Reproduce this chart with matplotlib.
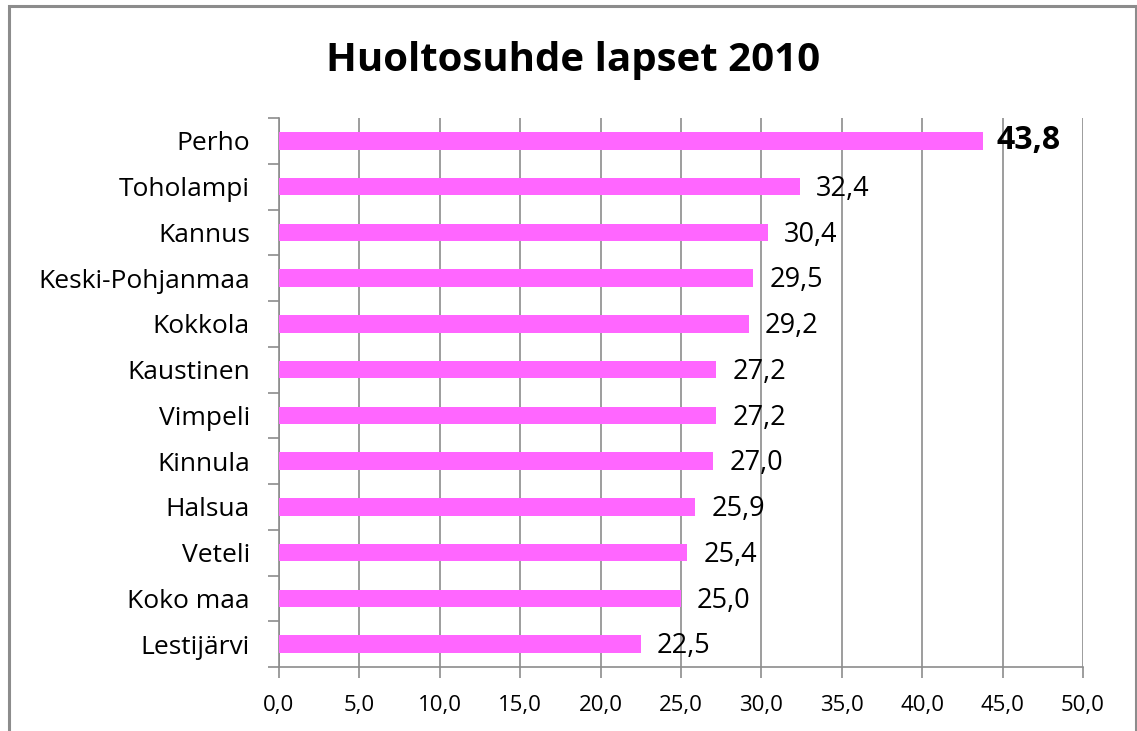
import matplotlib.pyplot as plt
from matplotlib.patches import Rectangle

# data
kunnat = ["Perho", "Toholampi", "Kannus", "Keski-Pohjanmaa", "Kokkola", "Kaustinen",
          "Vimpeli", "Kinnula", "Halsua", "Veteli", "Koko maa", "Lestijärvi"]
arvot = [43.8, 32.4, 30.4, 29.5, 29.2, 27.2, 27.2, 27.0, 25.9, 25.4, 25.0, 22.5]
xticks = [0, 5, 10, 15, 20, 25, 30, 35, 40, 45, 50]

plt.rcParams['font.family'] = ['Open Sans', 'DejaVu Sans']

W, H = 1137, 731
fig = plt.figure(figsize=(W / 100, H / 100), dpi=100)

# frame around the chart
fig.patches.append(Rectangle((9 / W, -0.05), (1136 - 9) / W, 1.05 - 6 / H,
                             transform=fig.transFigure, fill=False,
                             edgecolor='#8c8c8c', linewidth=2.2))

ax = fig.add_axes([279 / W, 64 / H, (1083 - 279) / W, (667 - 118) / H])

n = len(kunnat)
ypos = list(range(n))[::-1]
ax.barh(ypos, arvot, height=0.38, color='#ff66ff', zorder=3)

for y, v in zip(ypos, arvot):
    txt = f"{v:.1f}".replace('.', ',')
    if v == max(arvot):
        ax.text(v + 0.8, y, txt, va='center', ha='left', fontsize=23,
                fontweight='bold', zorder=4)
    else:
        ax.text(v + 1.0, y - 0.05, txt, va='center', ha='left', fontsize=19.5, zorder=4)

ax.set_xlim(0, 50)
ax.set_ylim(-0.5, n - 0.5)
ax.set_xticks(xticks)
ax.set_xticklabels([f"{t:.1f}".replace('.', ',') for t in xticks], fontsize=16)
ax.set_yticks(ypos)
ax.set_yticklabels(kunnat, fontsize=19)
ax.tick_params(axis='y', length=0, pad=21)
ax.set_yticks([i - 0.5 for i in range(n + 1)], minor=True)
ax.tick_params(axis='y', which='minor', length=8, color='#8c8c8c', width=1.2)
ax.tick_params(axis='x', length=8, color='#8c8c8c', width=1.2, pad=12)

ax.grid(axis='x', color='#8c8c8c', linewidth=1.2, zorder=0)
for s in ['top', 'right']:
    ax.spines[s].set_visible(False)
for s in ['left', 'bottom']:
    ax.spines[s].set_color('#8c8c8c')
    ax.spines[s].set_linewidth(1.2)

fig.text(573 / W, 1 - 60 / H, "Huoltosuhde lapset 2010", ha='center', va='center',
         fontsize=29, fontweight='bold')

fig.savefig("out.png", dpi=100)
